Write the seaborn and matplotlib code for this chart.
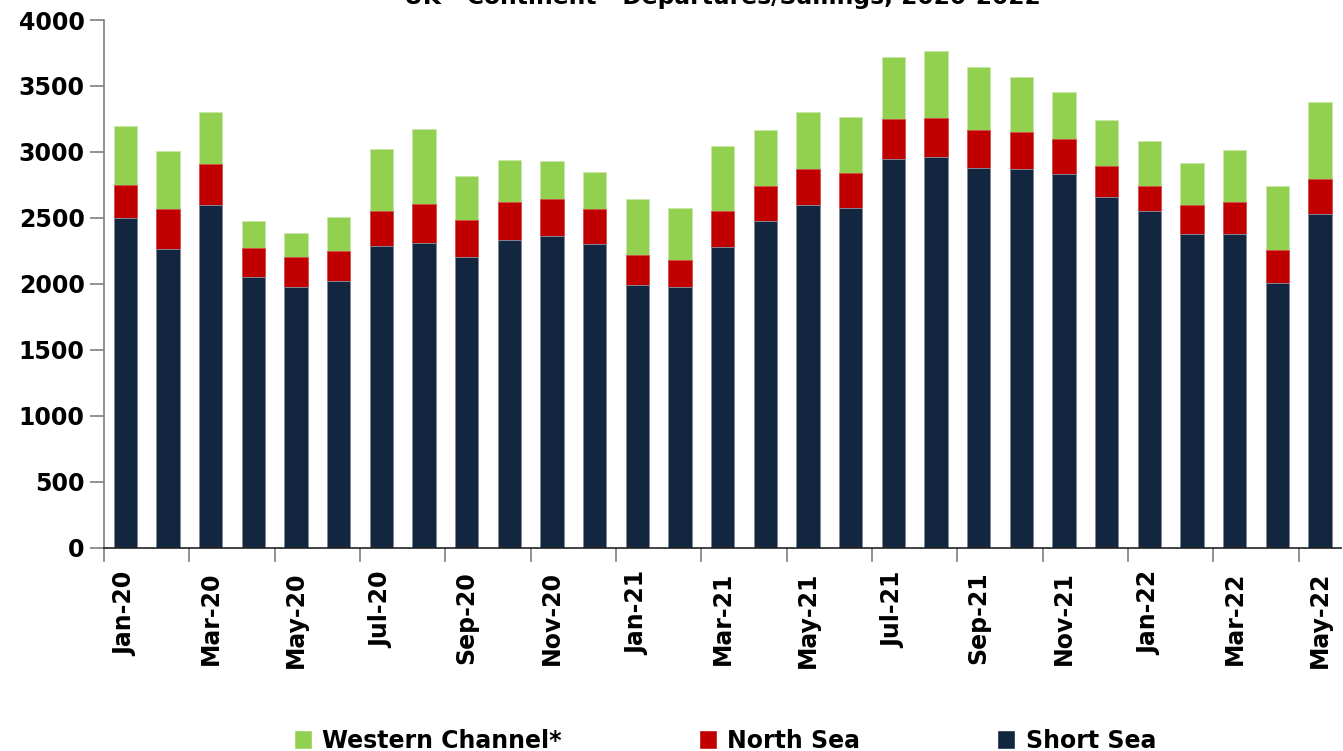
import numpy as np
import pandas as pd
import matplotlib
matplotlib.use("Agg")
import matplotlib.pyplot as plt
import seaborn as sns
from matplotlib.patches import Patch

months = ["Jan-20", "Feb-20", "Mar-20", "Apr-20", "May-20", "Jun-20", "Jul-20", "Aug-20",
          "Sep-20", "Oct-20", "Nov-20", "Dec-20", "Jan-21", "Feb-21", "Mar-21", "Apr-21",
          "May-21", "Jun-21", "Jul-21", "Aug-21", "Sep-21", "Oct-21", "Nov-21", "Dec-21",
          "Jan-22", "Feb-22", "Mar-22", "Apr-22", "May-22"]
short_sea = [2497, 2264, 2595, 2054, 1978, 2022, 2285, 2306, 2201, 2330, 2360, 2300, 1989, 1974,
             2282, 2476, 2595, 2573, 2949, 2962, 2876, 2868, 2833, 2656, 2554, 2380, 2375, 2004, 2527]
north_sea = [252, 303, 316, 220, 228, 227, 267, 300, 285, 293, 283, 265, 227, 209,
             270, 266, 278, 265, 298, 293, 288, 285, 263, 237, 188, 218, 245, 250, 268]
western_channel = [447, 438, 389, 205, 179, 255, 472, 565, 332, 316, 286, 280, 425, 392,
                   493, 422, 430, 427, 472, 510, 477, 415, 358, 347, 338, 320, 395, 485, 586]
series_names = ["Western Channel*", "North Sea", "Short Sea"]
title = "UK - Continent - Departures/Sailings, 2020-2022"
y_ticks = [0, 500, 1000, 1500, 2000, 2500, 3000, 3500, 4000]

c_green = "#92D050"
c_red = "#C00000"
c_navy = "#12263F"

df = pd.DataFrame({"month": months, "short": short_sea, "north": north_sea, "west": western_channel})
df["lvl2"] = df["short"] + df["north"]
df["lvl3"] = df["lvl2"] + df["west"]

sns.set_theme(style="white")
plt.rcParams["font.family"] = ["DejaVu Sans"]
plt.rcParams["text.color"] = "black"
plt.rcParams["xtick.labelcolor"] = "black"
plt.rcParams["ytick.labelcolor"] = "black"

W, H = 1343, 751
fig = plt.figure(figsize=(W / 100, H / 100), dpi=100)
ax = fig.add_axes([104 / W, 1 - 547.7 / H, (1341.4 - 104) / W, (547.7 - 20) / H])

bw = 0.55
sns.barplot(data=df, x="month", y="lvl3", order=months, color=c_green, saturation=1,
            width=bw, ax=ax, edgecolor="#c8e8a8", linewidth=0.6)
sns.barplot(data=df, x="month", y="lvl2", order=months, color=c_red, saturation=1,
            width=bw, ax=ax, edgecolor="#d65050", linewidth=0.6)
sns.barplot(data=df, x="month", y="short", order=months, color=c_navy, saturation=1,
            width=bw, ax=ax, edgecolor="#8a96a8", linewidth=0.6)

ax.set_ylim(0, 4000)
ax.set_xlim(-0.5, len(months) - 0.5)
ax.set_xlabel("")
ax.set_ylabel("")

ax.set_yticks(y_ticks)
ax.set_yticklabels([str(v) for v in y_ticks], fontsize=17, fontweight="bold", color="black")
ax.tick_params(axis="y", direction="out", length=10, width=1.2, color="#7f7f7f", pad=4, left=True)

ax.set_xticks(np.arange(-0.5, len(months) - 1, 2))
ax.set_xticklabels([])
ax.set_xticks(np.arange(0, len(months), 2), minor=True)
ax.set_xticklabels(months[::2], minor=True, rotation=90, fontsize=17, fontweight="bold",
                   va="top", ha="center", color="black")
ax.tick_params(axis="x", which="major", direction="out", length=10, width=1.2, color="#7f7f7f", bottom=True)
ax.tick_params(axis="x", which="minor", length=0, pad=17, bottom=True)

for s in ["top", "right"]:
    ax.spines[s].set_visible(False)
ax.spines["left"].set_color("#7f7f7f")
ax.spines["left"].set_linewidth(1.2)
ax.spines["bottom"].set_color("#222222")
ax.spines["bottom"].set_linewidth(1.2)
ax.grid(False)

fig.text(722 / W, 1 - 4 / H, title, ha="center", va="baseline", fontsize=16.8,
         fontweight="bold", color="black")

handles = [Patch(facecolor=c_green), Patch(facecolor=c_red), Patch(facecolor=c_navy)]
leg = fig.legend(handles, series_names, loc="center", bbox_to_anchor=(725 / W, 1 - 741 / H),
                 ncol=3, frameon=False, prop={"size": 17, "weight": "bold"},
                 handlelength=0.75, handleheight=0.85, handletextpad=0.45, columnspacing=5.8,
                 borderpad=0, borderaxespad=0)
for t in leg.get_texts():
    t.set_color("black")

fig.savefig("out.png", dpi=100)
